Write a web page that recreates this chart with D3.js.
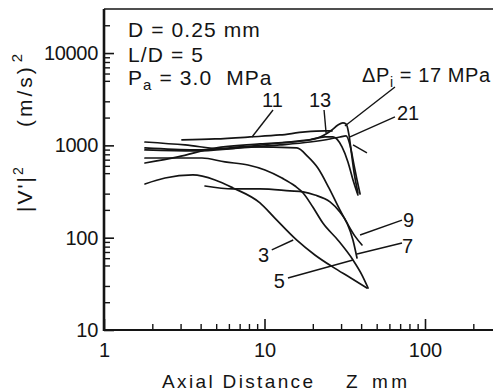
<!DOCTYPE html>
<html>
<head>
<meta charset="utf-8">
<script src="https://cdn.jsdelivr.net/npm/d3@7"></script>
<style>
  html, body { margin: 0; padding: 0; background: #fff; }
  svg { display: block; font-family: "Liberation Sans", Arial, sans-serif; }
</style>
</head>
<body>
<svg id="chart" width="493" height="392"></svg>
<script>
// Injection pressure difference ΔPi (MPa) of each curve
const pressures = [3, 5, 7, 9, 11, 13, 17, 21];

// Points are [axial distance Z (mm), |V'|^2 (m/s)^2]
const curve3  = [[1.80, 382], [2.40, 443], [3.58, 478], [4.92, 422], [6.36, 346], [9.37, 238],
                 [11.6, 163], [15.9, 94], [20.6, 65], [26.7, 48], [34.1, 37], [43.5, 28.5]];
const curve5  = [[1.80, 730], [2.77, 730], [4.08, 730], [5.67, 661], [7.89, 613], [10.07, 541],
                 [12.85, 443], [15.5, 363], [17.4, 305], [20.0, 215], [23.1, 144], [28.7, 94],
                 [35.6, 57.3], [40.5, 39.4], [44.2, 28.5]];
const curve7  = [[4.26, 363], [6.36, 337], [9.37, 337], [14.4, 321], [17.4, 313], [20.6, 290],
                 [25.6, 244], [29.5, 190], [32.7, 144], [35.6, 94], [37.7, 60.3]];
const curve9  = [[1.80, 1088], [3.20, 1010], [5.67, 914], [8.12, 961], [15.9, 937], [18.7, 749],
                 [21.5, 568], [25.2, 346], [29.5, 200], [32.7, 144], [36.6, 104], [40.5, 83.4]];
const curve11 = [[3.06, 1144], [4.92, 1173], [8.12, 1233], [12.5, 1296], [17.9, 1397], [23.8, 1432],
                 [26.3, 1432]];
const curve13 = [[1.80, 937], [3.69, 892], [7.03, 961], [12.5, 1061], [19.2, 1144], [23.8, 1233],
                 [26.7, 1233], [30.4, 961], [33.1, 661], [35.6, 422], [38.2, 290]];
const curve17 = [[1.80, 644], [2.89, 749], [4.92, 937], [9.37, 1036], [16.6, 1116], [22.2, 1233],
                 [26.3, 1469], [28.7, 1663], [30.8, 1748], [32.2, 1705], [33.6, 1296], [34.6, 892],
                 [36.1, 515], [38.2, 305]];
const curve21 = [[1.80, 892], [3.69, 870], [7.03, 937], [12.5, 1010], [19.2, 1088], [25.6, 1173],
                 [29.5, 1233], [32.2, 1264], [34.1, 1010], [36.1, 613], [37.7, 422], [39.4, 297]];

// Axis ticks
const zMajorTicks = [1, 10, 100];
const zTickLabels = ["1", "10", "100"];
const zMinorTicks = [2, 3, 4, 5, 6, 7, 8, 9, 20, 30, 40, 50, 60, 70, 80, 90, 200];
const vMajorTicks = [10, 100, 1000, 10000];
const vTickLabels = ["10", "100", "1000", "10000"];
const vMinorTicks = [20, 30, 50, 60, 70, 80, 90, 200, 300, 500, 600, 700, 800, 900,
                     2000, 3000, 5000, 6000, 7000, 8000, 9000, 20000];

// Curve labels: [text, Z, V, anchor]
const curveLabels = [
  ["11", 11.2, 2606, "middle"],
  ["13", 22.2, 2606, "middle"],
  ["21", 66.9, 1884, "start"],
  ["9", 72.9, 130.6, "start"],
  ["7", 71.9, 68.2, "start"],
  ["3", 10.7, 54.6, "end"],
  ["5", 13.4, 28.5, "end"]
];
// Leader lines: [[Z1, V1], [Z2, V2]]
const leaders = [
  [[11.3, 2418], [8.36, 1233]],
  [[23.5, 2418], [24.2, 1362]],
  [[65.0, 4292], [31.7, 1622]],
  [[65.0, 2031], [34.1, 1233]],
  [[35.6, 1010], [43.5, 827]],
  [[71.9, 155], [39.4, 107]],
  [[71.9, 87.6], [37.7, 66.6]],
  [[11.1, 73.6], [15.1, 94.4]],
  [[14.0, 36.6], [35.6, 57.3]]
];

const curveTable = pressures.map((p, i) => ({
  pressure: p,
  points: [curve3, curve5, curve7, curve9, curve11, curve13, curve17, curve21][i]
}));

const svg = d3.select("#chart");
const plotLeft = 104, plotBottom = 330, plotTop = 9, plotRight = 493;
const decadeX = 160.5;

const x = d3.scaleLog().domain([1, 300]).range([plotLeft, plotLeft + decadeX * Math.log10(300)]);
const y = d3.scaleLog().domain([10, 30000]).range([plotBottom, plotTop]);

svg.append("clipPath").attr("id", "plotClip")
  .append("rect").attr("x", plotLeft).attr("y", plotTop)
  .attr("width", plotRight - plotLeft).attr("height", plotBottom - plotTop);

const ink = "#141414";

// Minor ticks (inward)
svg.append("g").attr("transform", `translate(${plotLeft},0)`)
  .call(d3.axisLeft(y).tickValues(vMinorTicks).tickSize(-6).tickSizeOuter(0).tickFormat(""))
  .call(g => g.select(".domain").remove())
  .call(g => g.selectAll("line").attr("stroke", ink).attr("stroke-width", 1.4));
svg.append("g").attr("transform", `translate(0,${plotBottom})`)
  .call(d3.axisBottom(x).tickValues(zMinorTicks).tickSize(-6).tickSizeOuter(0).tickFormat(""))
  .call(g => g.select(".domain").remove())
  .call(g => g.selectAll("line").attr("stroke", ink).attr("stroke-width", 1.4));

// Major ticks with labels
svg.append("g").attr("transform", `translate(${plotLeft},0)`)
  .call(d3.axisLeft(y).tickValues(vMajorTicks).tickSize(-10).tickSizeOuter(0).tickPadding(6)
    .tickFormat((d, i) => vTickLabels[i]))
  .call(g => g.select(".domain").remove())
  .call(g => g.selectAll("line").attr("stroke", ink).attr("stroke-width", 1.6))
  .call(g => g.selectAll("text").attr("fill", ink).attr("font-size", 20)
    .attr("font-family", "'Liberation Sans', Arial, sans-serif").attr("letter-spacing", -0.3));
svg.append("g").attr("transform", `translate(0,${plotBottom})`)
  .call(d3.axisBottom(x).tickValues(zMajorTicks).tickSize(-11).tickSizeOuter(0).tickPadding(13)
    .tickFormat((d, i) => zTickLabels[i]))
  .call(g => g.select(".domain").remove())
  .call(g => g.selectAll("line").attr("stroke", ink).attr("stroke-width", 1.6))
  .call(g => g.selectAll("text").attr("fill", ink).attr("font-size", 20)
    .attr("font-family", "'Liberation Sans', Arial, sans-serif"));

// Frame
svg.append("line").attr("x1", plotLeft).attr("x2", plotLeft).attr("y1", plotTop).attr("y2", plotBottom + 1)
  .attr("stroke", ink).attr("stroke-width", 2.6);
svg.append("line").attr("x1", plotLeft - 1).attr("x2", plotRight).attr("y1", plotBottom).attr("y2", plotBottom)
  .attr("stroke", ink).attr("stroke-width", 2.2);
svg.append("line").attr("x1", plotLeft).attr("x2", plotRight).attr("y1", plotTop).attr("y2", plotTop)
  .attr("stroke", ink).attr("stroke-width", 1.6);

// Curves
const line = d3.line().x(d => x(d[0])).y(d => y(d[1])).curve(d3.curveMonotoneX);
svg.append("g").attr("clip-path", "url(#plotClip)")
  .selectAll("path").data(curveTable).join("path")
  .attr("d", d => line(d.points))
  .attr("fill", "none").attr("stroke", ink).attr("stroke-width", 1.7)
  .attr("stroke-linejoin", "round").attr("stroke-linecap", "round");

// Leader lines
svg.append("g").selectAll("line").data(leaders).join("line")
  .attr("x1", d => x(d[0][0])).attr("y1", d => y(d[0][1]))
  .attr("x2", d => x(d[1][0])).attr("y2", d => y(d[1][1]))
  .attr("stroke", ink).attr("stroke-width", 1.4);

// Curve numbers
svg.append("g").selectAll("text").data(curveLabels).join("text")
  .attr("x", d => x(d[1])).attr("y", d => y(d[2]))
  .attr("text-anchor", d => d[3])
  .attr("font-size", 20).attr("fill", ink)
  .text(d => d[0]);

// ΔPi label
const dp = svg.append("text").attr("x", x(40.5)).attr("y", y(4864))
  .attr("font-size", 20).attr("fill", ink).attr("letter-spacing", 0.6);
dp.append("tspan").text("ΔP");
dp.append("tspan").attr("font-size", 14).attr("dy", 5).text("i");
dp.append("tspan").attr("dy", -5).text(" = 17 MPa");

// Test conditions
const cond = svg.append("g").attr("fill", ink).attr("font-size", 21).attr("letter-spacing", 1.1);
cond.append("text").attr("x", 128).attr("y", 37).text("D = 0.25 mm");
cond.append("text").attr("x", 128).attr("y", 62).text("L/D = 5");
const pa = cond.append("text").attr("x", 128).attr("y", 85).style("white-space", "pre");
pa.append("tspan").text("P");
pa.append("tspan").attr("font-size", 15).attr("dy", 5).text("a");
pa.append("tspan").attr("dy", -5).text(" = 3.0  MPa");

// Axis titles
const xt = svg.append("text").attr("y", 388).attr("font-size", 19).attr("fill", ink);
xt.append("tspan").attr("x", 162).attr("textLength", 151).attr("lengthAdjust", "spacing").text("Axial Distance");
xt.append("tspan").attr("x", 346).text("Z");
xt.append("tspan").attr("x", 372).attr("textLength", 35).attr("lengthAdjust", "spacing").text("mm");

const yt = svg.append("text").attr("transform", "translate(32,212) rotate(-90)")
  .attr("font-size", 21).attr("fill", ink);
yt.append("tspan").attr("x", 0).attr("letter-spacing", 2).text("|V'|");
yt.append("tspan").attr("font-size", 14).attr("dy", -9).text("2");
yt.append("tspan").attr("x", 85).attr("dy", 9).attr("letter-spacing", 3).text("(m/s)");
yt.append("tspan").attr("font-size", 15).attr("dy", -10).attr("dx", 2).text("2");
</script>
</body>
</html>
